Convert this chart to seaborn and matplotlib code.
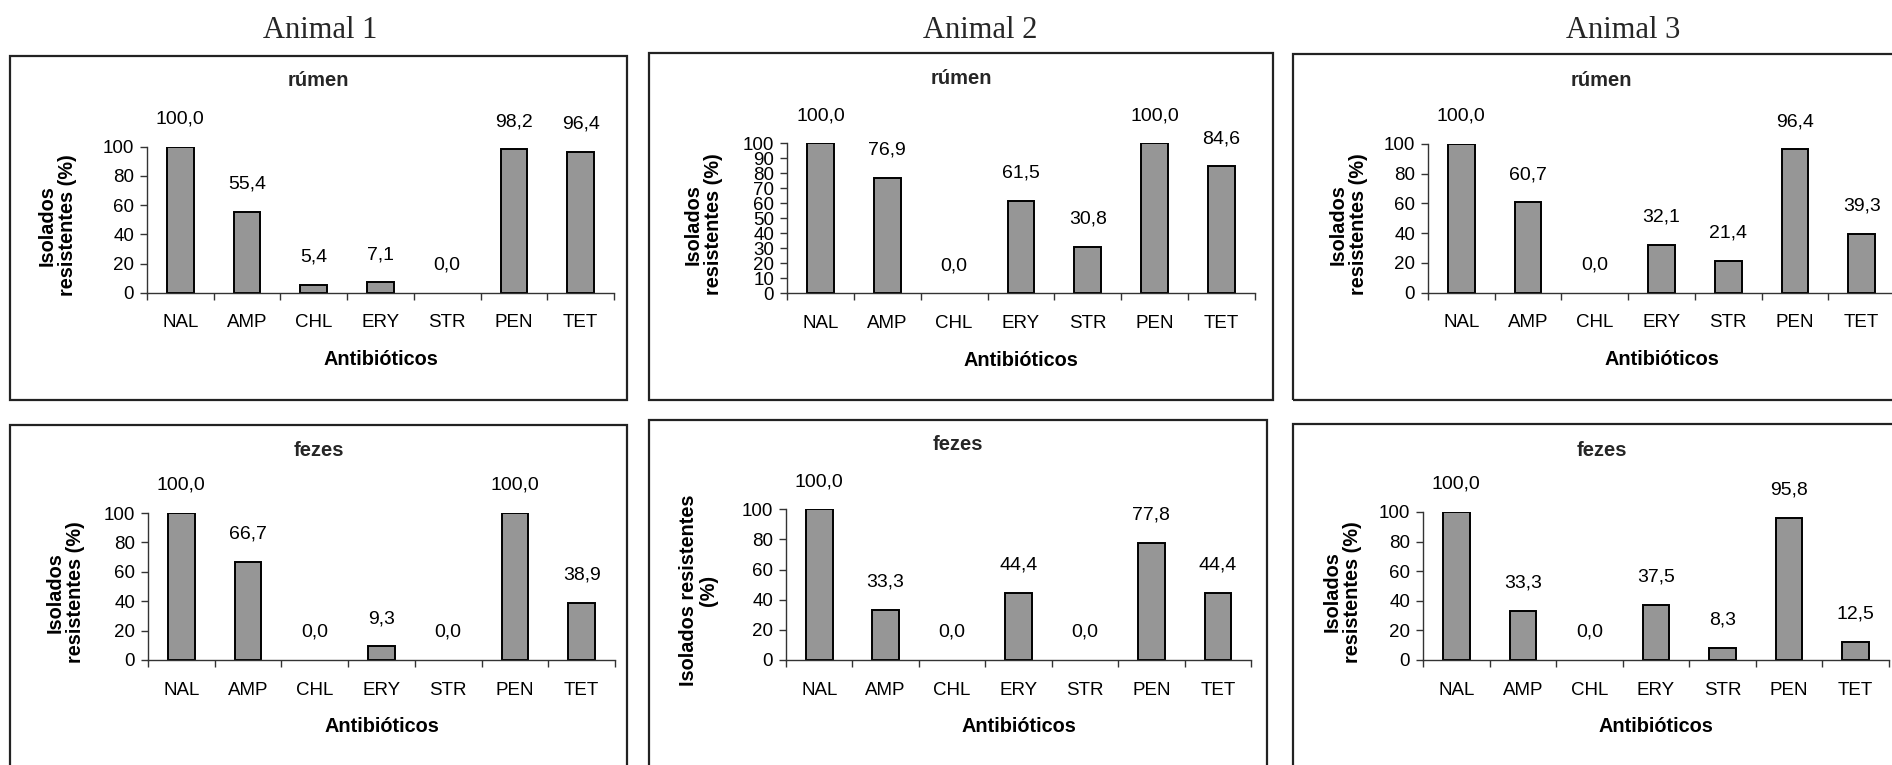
import numpy as np
import pandas as pd
import matplotlib
matplotlib.use("Agg")
import matplotlib.pyplot as plt
import seaborn as sns
from matplotlib.patches import Rectangle

# ---------------- data ----------------
categories = ['NAL', 'AMP', 'CHL', 'ERY', 'STR', 'PEN', 'TET']
animals = ['Animal 1', 'Animal 2', 'Animal 3']
sources = ['rúmen', 'fezes']

a1_rumen = [100.0, 55.4, 5.4, 7.1, 0.0, 98.2, 96.4]
a2_rumen = [100.0, 76.9, 0.0, 61.5, 30.8, 100.0, 84.6]
a3_rumen = [100.0, 60.7, 0.0, 32.1, 21.4, 96.4, 39.3]
a1_fezes = [100.0, 66.7, 0.0, 9.3, 0.0, 100.0, 38.9]
a2_fezes = [100.0, 33.3, 0.0, 44.4, 0.0, 77.8, 44.4]
a3_fezes = [100.0, 33.3, 0.0, 37.5, 8.3, 95.8, 12.5]

ylabel_std = 'Isolados\nresistentes (%)'
ylabel_alt = 'Isolados resistentes\n(%)'
xlabel_txt = 'Antibióticos'

# ---------------- style ----------------
sns.set_style("ticks")
plt.rcParams['font.family'] = ['Liberation Sans', 'DejaVu Sans']

W, H = 1892, 765
fig = plt.figure(figsize=(W / 100, H / 100), dpi=100)


def fx(x):
    return x / W


def fy(y):
    return 1 - y / H


BAR_COLOR = '#969696'
TICK_FS = 13.5
VAL_FS = 14
LAB_FS = 14.3
TITLE_FS = 14.5

# layout (pixel coordinates)
panels = [
    dict(values=a1_rumen, title=sources[0], ylabel=ylabel_std,
         axis=(147, 614, 146.7, 292.7), box=(10, 56, 627, 400), ystep=20,
         title_y=81, ylab_x=-0.150),
    dict(values=a2_rumen, title=sources[0], ylabel=ylabel_std,
         axis=(787, 1255, 143.3, 293.3), box=(649, 52.7, 1273, 400), ystep=10,
         title_y=78, ylab_x=-0.137),
    dict(values=a3_rumen, title=sources[0], ylabel=ylabel_std,
         axis=(1428, 1895, 144, 292.7), box=(1293, 54, 1910, 400), ystep=20,
         title_y=80, ylab_x=-0.128),
    dict(values=a1_fezes, title=sources[1], ylabel=ylabel_std,
         axis=(148, 615, 513, 660), box=(10, 425, 627, 790), ystep=20,
         title_y=451, ylab_x=-0.135),
    dict(values=a2_fezes, title=sources[1], ylabel=ylabel_alt,
         axis=(786, 1251, 509.3, 660), box=(649, 420, 1267, 790), ystep=20,
         title_y=444, ylab_x=-0.146),
    dict(values=a3_fezes, title=sources[1], ylabel=ylabel_std,
         axis=(1423, 1889, 512, 660), box=(1293, 424, 1910, 790), ystep=20,
         title_y=450, ylab_x=-0.13),
]

for p in panels:
    x0, x1, y100, y0 = p['axis']
    ax = fig.add_axes([fx(x0), fy(y0), fx(x1) - fx(x0), (y0 - y100) / H])
    df = pd.DataFrame({'cat': categories, 'val': p['values']})
    sns.barplot(data=df, x='cat', y='val', order=categories, color=BAR_COLOR,
                saturation=1, width=0.4, edgecolor='black', linewidth=1.4,
                errorbar=None, ax=ax)
    # zero-height bars show no outline in the original
    for patch in ax.patches:
        if abs(patch.get_height()) < 1e-9:
            patch.set_linewidth(0)
    ax.set_xlim(-0.5, len(categories) - 0.5)
    ax.set_ylim(0, 100)
    ax.set_facecolor('none')
    for s in ['top', 'right']:
        ax.spines[s].set_visible(False)
    for s in ['left', 'bottom']:
        ax.spines[s].set_color('#333333')
        ax.spines[s].set_linewidth(1.0)

    # x ticks: marks between categories, labels at centres
    bounds = np.arange(-0.5, len(categories), 1.0)
    ax.set_xticks(bounds, labels=[''] * len(bounds))
    ax.set_xticks(np.arange(len(categories)), labels=categories, minor=True)
    ax.tick_params(axis='x', which='major', length=5, width=1, color='#333333',
                   direction='out', bottom=True)
    ax.tick_params(axis='x', which='minor', length=0, pad=15.5, labelsize=TICK_FS,
                   labelcolor='black')

    ax.set_yticks(np.arange(0, 101, p['ystep']))
    ax.tick_params(axis='y', length=5, width=1, color='#333333', pad=4.3,
                   labelsize=TICK_FS, labelcolor='black', direction='out', left=True)

    ax.set_xlabel(xlabel_txt, fontsize=LAB_FS, fontweight='bold', color='black')
    ax.xaxis.set_label_coords(0.5, -67 / (y0 - y100))
    ax.xaxis.label.set_va('center')
    ax.set_ylabel(p['ylabel'], fontsize=LAB_FS, fontweight='bold', color='black',
                  linespacing=1.1)
    ax.yaxis.set_label_coords(p['ylab_x'], 0.46)

    for i, v in enumerate(p['values']):
        ax.annotate(f"{v:.1f}".replace('.', ','), xy=(i, v), xytext=(0, 20),
                    textcoords='offset points', ha='center', va='center',
                    fontsize=VAL_FS, color='black', annotation_clip=False)

    bx0, by0, bx1, by1 = p['box']
    fig.add_artist(Rectangle((fx(bx0), fy(by1)), fx(bx1) - fx(bx0), (by1 - by0) / H,
                             transform=fig.transFigure, fill=False,
                             edgecolor='#222222', linewidth=1.6))
    fig.text(fx((bx0 + min(bx1, 1910)) / 2), fy(p['title_y']), p['title'],
             ha='center', va='center', fontsize=TITLE_FS, fontweight='bold')

for name, cx in zip(animals, [320, 980, 1623]):
    fig.text(fx(cx), fy(31), name, family=['Liberation Serif', 'DejaVu Serif'],
             fontsize=22, ha='center', va='center')

fig.savefig('out.png', dpi=100)
